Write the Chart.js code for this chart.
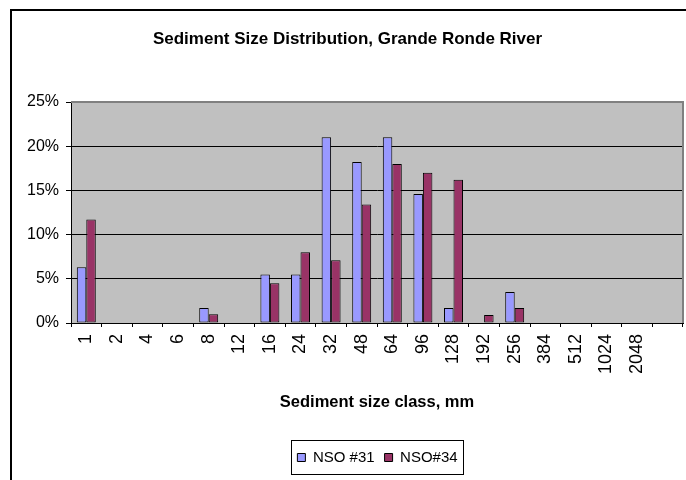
<!DOCTYPE html>
<html>
<head>
<meta charset="utf-8">
<script src="https://cdn.jsdelivr.net/npm/chart.js@4/dist/chart.umd.min.js"></script>
<style>
  html, body { margin: 0; padding: 0; background: #fff; }
  #wrap { width: 686px; height: 480px; }
</style>
</head>
<body>
<div id="wrap"><canvas id="sedimentChart"></canvas></div>
<script>
// size classes (mm)
var sizeClasses = ["1", "2", "4", "6", "8", "12", "16", "24", "32", "48", "64", "96", "128", "192", "256", "384", "512", "1024", "2048", ""];
// percent of sample in each class
var nso31 = [6.3, 0, 0, 0, 1.7, 0, 5.5, 5.5, 21.0, 18.2, 21.0, 14.6, 1.7, 0, 3.5, 0, 0, 0, 0, 0];
var nso34 = [11.7, 0, 0, 0, 1.0, 0, 4.5, 8.0, 7.1, 13.4, 18.0, 17.0, 16.2, 0.9, 1.7, 0, 0, 0, 0, 0];
var yTicks = [0, 5, 10, 15, 20, 25];

var FONT = "'Liberation Sans', Arial, sans-serif";
Chart.defaults.font.family = FONT;
Chart.defaults.color = "#000";

var LEGEND_SHIFT = 30;

// gray plot area, outer frame, legend box
var excelLook = {
    id: "excelLook",
    afterLayout: function (chart) {
        var lg = chart.legend;
        lg.left += LEGEND_SHIFT;
        lg.right += LEGEND_SHIFT;
        (lg.legendHitBoxes || []).forEach(function (b) { b.left += LEGEND_SHIFT; });
    },
    beforeDraw: function (chart) {
        var c = chart.ctx, a = chart.chartArea;
        c.save();
        c.fillStyle = "#000";
        c.fillRect(10, 9, 2, 471);
        c.fillRect(10, 9, 676, 2);
        c.fillStyle = "#c0c0c0";
        c.fillRect(a.left, a.top, a.right - a.left, a.bottom - a.top);
        c.restore();
    },
    afterDraw: function (chart) {
        var c = chart.ctx, a = chart.chartArea;
        c.save();
        c.strokeStyle = "#808080";
        c.lineWidth = 2;
        c.beginPath();
        c.moveTo(a.left, a.top);
        c.lineTo(a.right, a.top);
        c.lineTo(a.right, a.bottom);
        c.stroke();
        var boxes = chart.legend.legendHitBoxes;
        if (boxes && boxes.length) {
            var last = boxes[boxes.length - 1];
            var l = boxes[0].left - 6;
            var r = last.left + last.width + 6;
            c.strokeStyle = "#000";
            c.lineWidth = 1;
            c.strokeRect(Math.round(l) + 0.5, chart.legend.top + 0.5, Math.round(r - l), chart.legend.height - 1);
        }
        c.restore();
    }
};

new Chart(document.getElementById("sedimentChart"), {
    type: "bar",
    data: {
        labels: sizeClasses,
        datasets: [{
            label: "NSO #31",
            data: nso31,
            backgroundColor: "#9999ff",
            borderColor: "#000",
            borderWidth: function (ctx) { return ctx.raw ? 1 : 0; },
            borderSkipped: false
        }, {
            label: "NSO#34",
            data: nso34,
            backgroundColor: "#993366",
            borderColor: "#000",
            borderWidth: function (ctx) { return ctx.raw ? 1 : 0; },
            borderSkipped: false
        }]
    },
    options: {
        responsive: true,
        maintainAspectRatio: false,
        animation: false,
        layout: { padding: { top: 12, left: 12, right: 3, bottom: 5 } },
        datasets: { bar: { categoryPercentage: 0.62, barPercentage: 1 } },
        plugins: {
            title: {
                display: true,
                text: "Sediment Size Distribution, Grande Ronde River",
                font: { size: 17, weight: "bold" },
                color: "#000",
                padding: { top: 17, bottom: 52.6 }
            },
            legend: {
                position: "bottom",
                labels: {
                    boxWidth: 8,
                    boxHeight: 8,
                    padding: 10,
                    font: { size: 15 },
                    color: "#000"
                }
            },
            tooltip: { enabled: false }
        },
        scales: {
            x: {
                offset: true,
                grid: {
                    offset: true,
                    drawOnChartArea: false,
                    drawTicks: true,
                    tickLength: 4,
                    color: "#000"
                },
                border: { color: "#000", width: 1 },
                ticks: {
                    autoSkip: false,
                    minRotation: 90,
                    maxRotation: 90,
                    padding: 7,
                    font: { size: 18 },
                    color: "#000"
                },
                title: {
                    display: true,
                    text: "Sediment size class, mm",
                    font: { size: 16.5, weight: "bold" },
                    color: "#000",
                    padding: { top: 10, bottom: 28 }
                },
                afterFit: function (scale) {
                    scale.height = 117;
                    scale.paddingLeft = 0;
                    scale.paddingRight = 0;
                }
            },
            y: {
                min: 0,
                max: 25,
                afterBuildTicks: function (scale) {
                    scale.ticks = yTicks.map(function (v) { return { value: v }; });
                },
                grid: { color: "#000", tickLength: 5 },
                border: { color: "#000", width: 1 },
                ticks: {
                    padding: 7,
                    font: { size: 16 },
                    color: "#000",
                    callback: function (v) { return v + "%"; }
                },
                afterFit: function (scale) {
                    scale.width = 59;
                }
            }
        }
    },
    plugins: [excelLook]
});
</script>
</body>
</html>
